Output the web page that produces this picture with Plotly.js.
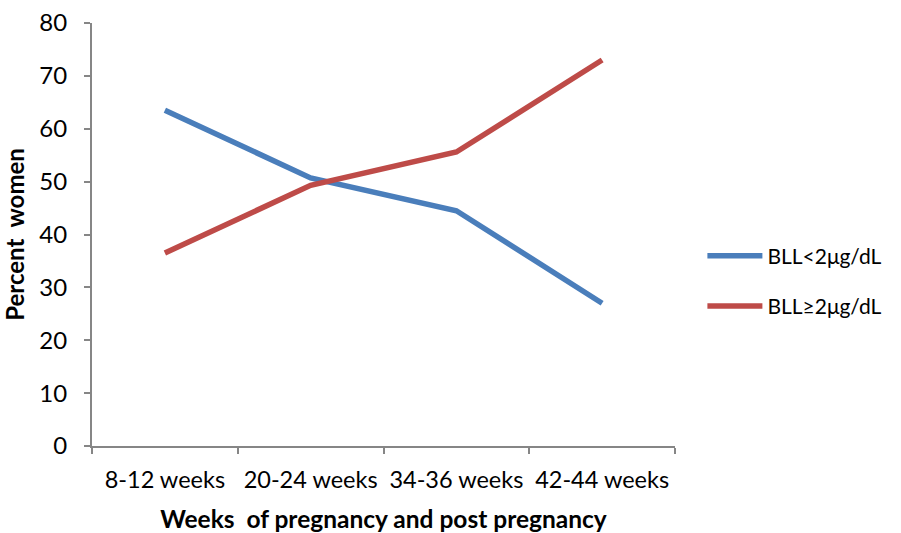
<!DOCTYPE html>
<html><head><meta charset="utf-8">
<script src="https://cdn.plot.ly/plotly-3.0.1.min.js"></script>
<style>body{margin:0;background:#fff}#chart{width:901px;height:533px}</style>
</head><body><div id="chart"></div>
<script>
var categories = ["8-12 weeks", "20-24 weeks", "34-36 weeks", "42-44 weeks"];
var bllLow = [63.5, 50.7, 44.5, 27.0];
var bllHigh = [36.5, 49.3, 55.6, 73.0];
var seriesNames = ["BLL<2μg/dL", "BLL≥2μg/dL"];
var yTicks = [0, 10, 20, 30, 40, 50, 60, 70, 80];

var FONT = "Lato, 'Open Sans', sans-serif";
var traces = [
  {x: categories, y: bllLow, name: seriesNames[0], type: "scatter", mode: "lines",
   line: {color: "#4A7EBB", width: 5.5}, legendgroup: "a"},
  {x: categories, y: bllHigh, name: seriesNames[1], type: "scatter", mode: "lines",
   line: {color: "#BE4B48", width: 5.5}, legendgroup: "b"}
];
var layout = {
  width: 901, height: 533,
  margin: {l: 92, r: 226, t: 23, b: 87},
  paper_bgcolor: "#fff", plot_bgcolor: "#fff",
  font: {family: FONT, size: 22, color: "#000"},
  showlegend: true,
  legend: {x: 1.047, y: 0.39, xanchor: "left", yanchor: "middle",
           font: {family: FONT, size: 21, color: "#000"},
           itemwidth: 55, traceorder: "grouped", tracegroupgap: 20},
  xaxis: {
    type: "category", range: [-0.5, 3.5], tickson: "boundaries", tickangle: 0,
    showline: true, linecolor: "#868686", linewidth: 2,
    ticks: "outside", ticklen: 6, tickcolor: "#868686", tickwidth: 2,
    showgrid: false, zeroline: false, ticklabelstandoff: 12,
    tickfont: {family: FONT, size: 23.5, color: "#000"},
    title: {text: "<b>Weeks  of pregnancy and post pregnancy</b>", font: {family: FONT, size: 24.5, color: "#000"}, standoff: 19}
  },
  yaxis: {
    range: [0, 80], tickvals: yTicks, ticktext: yTicks.map(String),
    showline: true, linecolor: "#868686", linewidth: 2,
    ticks: "outside", ticklen: 6, tickcolor: "#868686", tickwidth: 2,
    showgrid: false, zeroline: false, ticklabelstandoff: 12,
    tickfont: {family: FONT, size: 24, color: "#000"},
    title: {text: "<b>Percent  women</b>", font: {family: FONT, size: 24, color: "#000"}, standoff: 10}
  }
};
Plotly.newPlot("chart", traces, layout, {displayModeBar: false});
</script></body></html>
